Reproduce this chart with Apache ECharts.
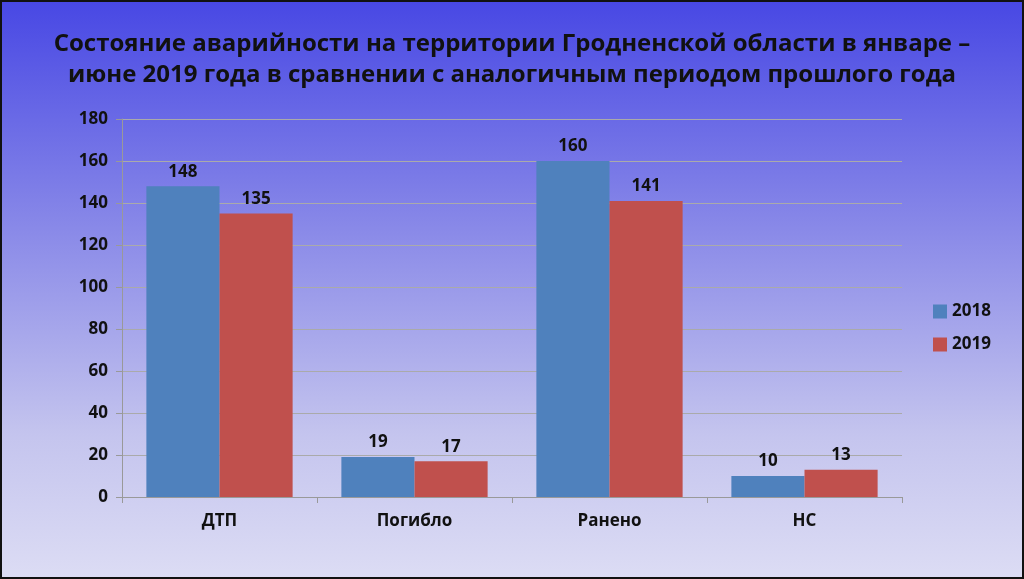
<!DOCTYPE html>
<html>
<head>
<meta charset="utf-8">
<style>
  html, body { margin: 0; padding: 0; }
  #chart {
    width: 1024px; height: 579px;
    background: linear-gradient(to bottom, #4848e4 0%, #8a8ae8 40%, #c4c4ee 75%, #dcdcf4 100%);
    box-sizing: border-box; border: 2px solid #111;
  }
</style>
<script src="https://cdn.jsdelivr.net/npm/echarts@6/dist/echarts.min.js"></script>
</head>
<body>
<div id="chart"></div>
<script>
var categories = ['ДТП', 'Погибло', 'Ранено', 'НС'];
var values2018 = [148, 19, 160, 10];
var values2019 = [135, 17, 141, 13];
var titleText = 'Состояние аварийности на территории Гродненской области в январе –\nиюне 2019 года в сравнении с аналогичным периодом прошлого года';

var chart = echarts.init(document.getElementById('chart'));
var labelStyle = { show: true, position: 'top', color: '#111', fontWeight: 'bold', fontSize: 17, fontFamily: 'Open Sans', distance: 6 };
chart.setOption({
  textStyle: { fontFamily: 'Open Sans' },
  title: {
    text: titleText, left: 'center', top: 22,
    textStyle: { fontSize: 24, fontWeight: 'bold', color: '#111', lineHeight: 31, fontFamily: 'Open Sans' }
  },
  grid: { left: 120, right: 120, top: 117, bottom: 80 },
  legend: {
    orient: 'vertical', left: 926, top: 296, itemWidth: 14, itemHeight: 14, itemGap: 16,
    icon: 'rect',
    textStyle: { fontSize: 17, fontWeight: 'bold', color: '#111' },
    data: ['2018', '2019']
  },
  xAxis: {
    type: 'category', data: categories,
    axisLine: { lineStyle: { color: '#999' } },
    axisTick: { show: true, length: 6, lineStyle: { color: '#999' } },
    axisLabel: { fontSize: 17, fontWeight: 'bold', color: '#111', margin: 16 }
  },
  yAxis: {
    type: 'value', min: 0, max: 180, interval: 20,
    axisLine: { show: true, lineStyle: { color: '#999' } },
    axisTick: { show: true, length: 6, lineStyle: { color: '#999' } },
    axisLabel: { fontSize: 17, fontWeight: 'bold', color: '#111', margin: 14 },
    splitLine: { lineStyle: { color: '#aaa' } }
  },
  series: [
    { name: '2018', type: 'bar', data: values2018, barGap: '0%', barCategoryGap: '25%',
      itemStyle: { color: '#4f81bd' }, label: labelStyle },
    { name: '2019', type: 'bar', data: values2019,
      itemStyle: { color: '#c0504d' }, label: labelStyle }
  ]
});
</script>
</body>
</html>
